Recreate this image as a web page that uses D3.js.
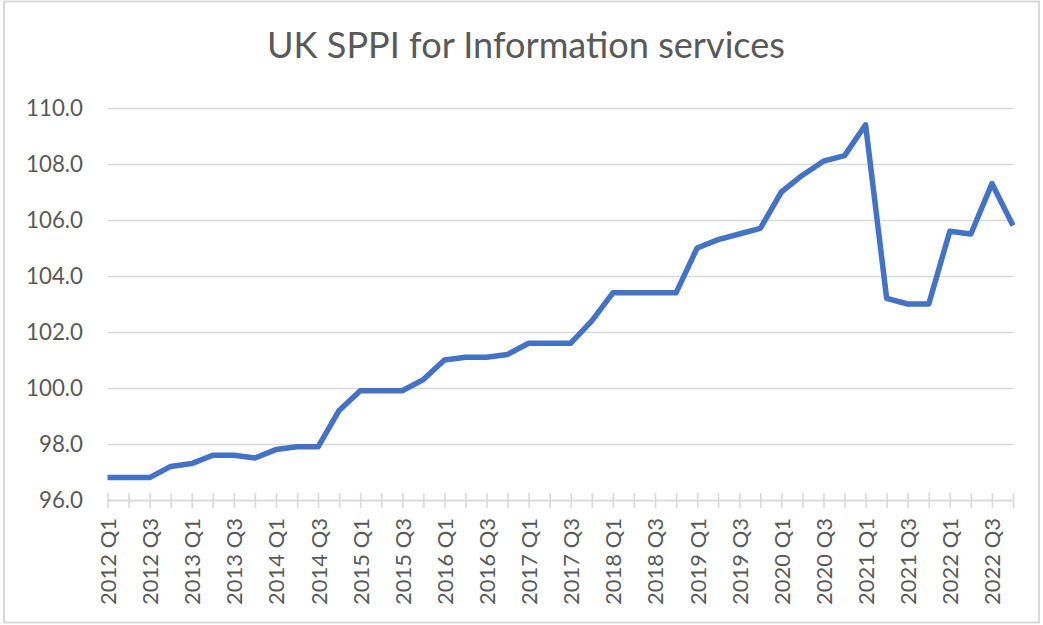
<!DOCTYPE html>
<html>
<head>
<meta charset="utf-8">
<script src="https://cdn.jsdelivr.net/npm/d3@7"></script>
<style>
  html, body { margin: 0; padding: 0; background: #fff; }
  svg { display: block; }
</style>
</head>
<body>
<svg id="chart" width="1043" height="625"></svg>
<script>
const title = "UK SPPI for Information services";
const categories = [
  "2012 Q1","2012 Q2","2012 Q3","2012 Q4",
  "2013 Q1","2013 Q2","2013 Q3","2013 Q4",
  "2014 Q1","2014 Q2","2014 Q3","2014 Q4",
  "2015 Q1","2015 Q2","2015 Q3","2015 Q4",
  "2016 Q1","2016 Q2","2016 Q3","2016 Q4",
  "2017 Q1","2017 Q2","2017 Q3","2017 Q4",
  "2018 Q1","2018 Q2","2018 Q3","2018 Q4",
  "2019 Q1","2019 Q2","2019 Q3","2019 Q4",
  "2020 Q1","2020 Q2","2020 Q3","2020 Q4",
  "2021 Q1","2021 Q2","2021 Q3","2021 Q4",
  "2022 Q1","2022 Q2","2022 Q3","2022 Q4"
];
const values = [
  96.8, 96.8, 96.8, 97.2,
  97.3, 97.6, 97.6, 97.5,
  97.8, 97.9, 97.9, 99.2,
  99.9, 99.9, 99.9, 100.3,
  101.0, 101.1, 101.1, 101.2,
  101.6, 101.6, 101.6, 102.4,
  103.4, 103.4, 103.4, 103.4,
  105.0, 105.3, 105.5, 105.7,
  107.0, 107.6, 108.1, 108.3,
  109.4, 103.2, 103.0, 103.0,
  105.6, 105.5, 107.3, 105.8
];
const yTicks = [96, 98, 100, 102, 104, 106, 108, 110];
const xTickLabels = categories.filter((c, i) => i % 2 === 0);

const FONT = "Lato, 'Open Sans', sans-serif";
const TEXT = "#595959";
const GRID = "#d9d9d9";

const svg = d3.select("#chart");

// chart border
svg.append("rect")
  .attr("x", 4).attr("y", 1.5)
  .attr("width", 1035).attr("height", 621)
  .attr("fill", "#fff")
  .attr("stroke", GRID).attr("stroke-width", 2);

// helper to fit font size to a target width
function fitSize(str, targetWidth) {
  const t = svg.append("text").attr("font-family", FONT).attr("font-size", 100).text(str);
  const w = t.node().getComputedTextLength();
  t.remove();
  return 100 * targetWidth / w;
}
const titleSize = fitSize(title, 518);
const yLabelSize = fitSize("110.0", 57);
const xLabelSize = fitSize("2012 Q1", 87);

const x = d3.scalePoint().domain(categories).range([107.5, 1013]);
const y = d3.scaleLinear().domain([96, 110]).range([500, 108]);

// title
svg.append("text")
  .attr("x", 526).attr("y", 58)
  .attr("text-anchor", "middle")
  .attr("font-family", FONT)
  .attr("font-size", titleSize)
  .attr("fill", TEXT)
  .text(title);

// y axis with gridlines
const yAxis = svg.append("g")
  .attr("transform", "translate(107.5,0)")
  .call(d3.axisLeft(y)
    .tickValues(yTicks)
    .tickFormat(d3.format(".1f"))
    .tickSize(-(1013 - 107.5))
    .tickPadding(24.5));
yAxis.select(".domain").remove();
yAxis.selectAll(".tick line").attr("stroke", GRID).attr("stroke-width", 1.6);
yAxis.selectAll(".tick text")
  .attr("font-family", FONT)
  .attr("font-size", yLabelSize)
  .attr("fill", TEXT);

// x axis
const xAxis = svg.append("g")
  .attr("transform", "translate(0,500)")
  .call(d3.axisBottom(x)
    .tickValues(categories)
    .tickSizeOuter(0)
    .tickFormat(d => xTickLabels.includes(d) ? d : ""));
xAxis.select(".domain").attr("stroke", GRID).attr("stroke-width", 1.6);
xAxis.selectAll(".tick line")
  .attr("y1", -7).attr("y2", 8)
  .attr("stroke", GRID).attr("stroke-width", 1.6);
xAxis.selectAll(".tick text")
  .attr("font-family", FONT)
  .attr("font-size", xLabelSize)
  .attr("fill", TEXT)
  .attr("text-anchor", "end")
  .attr("transform", "rotate(-90)")
  .attr("x", -18)
  .attr("y", 0)
  .attr("dy", "0.36em");

// line
const line = d3.line()
  .x((d, i) => x(categories[i]))
  .y(d => y(d));
svg.append("path")
  .datum(values)
  .attr("fill", "none")
  .attr("stroke", "#4472C4")
  .attr("stroke-width", 5.5)
  .attr("stroke-linejoin", "round")
  .attr("d", line);
</script>
</body>
</html>
